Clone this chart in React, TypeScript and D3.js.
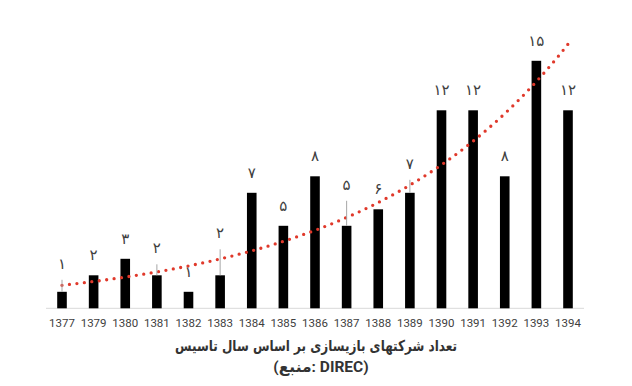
import React from 'react';
import * as d3 from 'd3';

const years = ['1377', '1379', '1380', '1381', '1382', '1383', '1384', '1385', '1386', '1387', '1388', '1389', '1390', '1391', '1392', '1393', '1394'];
const counts = [1, 2, 3, 2, 1, 2, 7, 5, 8, 5, 6, 7, 12, 12, 8, 15, 12];
const valueLabels = ['۱', '۲', '۳', '۲', '۱', '۲', '۷', '۵', '۸', '۵', '۶', '۷', '۱۲', '۱۲', '۸', '۱۵', '۱۲'];
const titleLine1 = 'تعداد شرکتهای بازیسازی بر اساس سال تاسیس';
const titleLine2 = '\u200E(منبع: DIREC)';

// layout only: labels moved up by hand in the original, drawn with a leader line
const labelLift: Record<string, number> = { '1377': 8, '1381': 7, '1383': 22, '1387': 21, '1389': 9 };

const W = 632;
const H = 386;

export default function App() {
  const x = d3.scalePoint<string>().domain(years).range([62, 568]);
  const y = d3.scaleLinear().domain([0, 16]).range([308.3, 44.3]);
  const barW = 9.6;

  // exponential trendline (least squares on ln values)
  const n = counts.length;
  const idx = counts.map((_, i) => i + 1);
  const lnv = counts.map((v) => Math.log(v));
  const mx = d3.mean(idx) as number;
  const my = d3.mean(lnv) as number;
  let sxy = 0;
  let sxx = 0;
  idx.forEach((xi, i) => {
    sxy += (xi - mx) * (lnv[i] - my);
    sxx += (xi - mx) * (xi - mx);
  });
  const b = sxy / sxx;
  const a = Math.exp(my - b * mx);
  const xIdx = d3.scaleLinear().domain([1, n]).range([x(years[0]) as number, x(years[n - 1]) as number]);
  const trendPts = d3.range(1, n + 0.001, 0.1).map((t) => [xIdx(t), y(a * Math.exp(b * t))] as [number, number]);
  const trendPath = d3.line().curve(d3.curveLinear)(trendPts) || '';

  return (
    <svg width={W} height={H} style={{ position: 'absolute', left: 0, top: 0, background: '#fff' }}>
      <line x1={46} x2={584} y1={y(0)} y2={y(0)} stroke="#d9d9d9" strokeWidth={1} />
      {years.map((yr, i) => (
        <rect key={yr} x={(x(yr) as number) - barW / 2} y={y(counts[i])} width={barW} height={y(0) - y(counts[i])} fill="#000" />
      ))}
      <path d={trendPath} fill="none" stroke="#e0392b" strokeWidth={3.3} strokeLinecap="round" strokeDasharray="0 7.5" />
      {years.map((yr, i) => {
        const lift = labelLift[yr] || 0;
        const cy = y(counts[i]) - 20 - lift;
        return (
          <g key={yr}>
            {lift > 0 && (
              <line x1={x(yr) as number} x2={x(yr) as number} y1={cy + 16} y2={y(counts[i])} stroke="#a6a6a6" strokeWidth={1} />
            )}
            <text x={x(yr) as number} y={cy} textAnchor="middle" dominantBaseline="central" fontFamily="DejaVu Sans" fontSize={15} fill="#404040">
              {valueLabels[i]}
            </text>
          </g>
        );
      })}
      {years.map((yr) => (
        <text key={yr} x={x(yr) as number} y={323} textAnchor="middle" dominantBaseline="central" fontFamily="Roboto" fontSize={11.5} fill="#404040">
          {yr}
        </text>
      ))}
      <text x={316} y={345.5} textAnchor="middle" dominantBaseline="central" fontFamily="DejaVu Sans" fontWeight="bold" fontSize={15} fill="#333" textLength={282} lengthAdjust="spacingAndGlyphs">
        {titleLine1}
      </text>
      <text x={321} y={367} textAnchor="middle" dominantBaseline="central" direction="ltr" fontFamily="Roboto, DejaVu Sans" fontWeight="bold" fontSize={15.5} fill="#333">
        {titleLine2}
      </text>
    </svg>
  );
}
